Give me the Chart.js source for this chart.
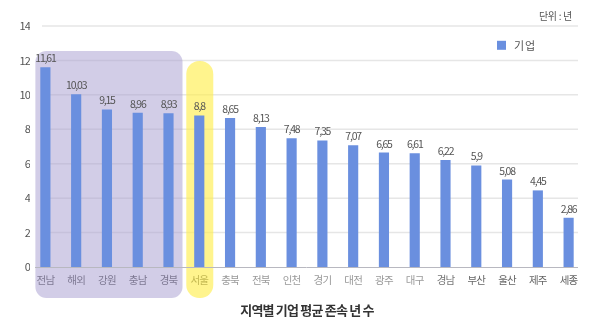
<!DOCTYPE html>
<html>
<head>
<meta charset="utf-8">
<script src="https://cdn.jsdelivr.net/npm/chart.js@4.4.1/dist/chart.umd.min.js"></script>
<style>
  html, body { margin: 0; padding: 0; background: #fff; }
</style>
</head>
<body>
<canvas id="myChart" width="600" height="327"></canvas>
<script>
var regions = ['전남', '해외', '강원', '충남', '경북', '서울', '충북', '전북', '인천',
               '경기', '대전', '광주', '대구', '경남', '부산', '울산', '제주', '세종'];
var years = [11.61, 10.03, 9.15, 8.96, 8.93, 8.8, 8.65, 8.13, 7.48,
             7.35, 7.07, 6.65, 6.61, 6.22, 5.9, 5.08, 4.45, 2.86];
var yTicks = [0, 2, 4, 6, 8, 10, 12, 14];
var labelColors = ['#555', '#555', '#555', '#555', '#555', '#555', '#999', '#999', '#999',
                   '#999', '#999', '#999', '#999', '#777', '#666', '#666', '#666', '#666'];

var barColor = '#6a8fdf';
var font = '"Noto Sans CJK KR", "Noto Sans", sans-serif';

// grid, highlight boxes, baseline, value labels, legend
var decor = {
    id: 'decor',
    beforeDraw: function(chart) {
        chart.ctx.letterSpacing = '-0.8px';
    },
    beforeDatasetsDraw: function(chart) {
        var ctx = chart.ctx, x = chart.scales.x, y = chart.scales.y, a = chart.chartArea;
        ctx.save();
        ctx.strokeStyle = '#e6e6e6';
        ctx.lineWidth = 1.5;
        yTicks.forEach(function(t) {
            if (t === 0) return;
            var py = y.getPixelForValue(t);
            ctx.beginPath();
            ctx.moveTo(a.left + 12, py);
            ctx.lineTo(a.right - 6, py);
            ctx.stroke();
        });

        // 전남..경북 group
        var x0 = x.getPixelForValue(0) - 10, x1 = x.getPixelForValue(4) + 14;
        var yt = y.getPixelForValue(12.55), yb = y.getPixelForValue(-1.8);
        ctx.fillStyle = 'rgba(165,155,208,0.5)';
        ctx.beginPath();
        ctx.roundRect(x0, yt, x1 - x0, yb - yt, 11);
        ctx.fill();

        // 서울
        x0 = x.getPixelForValue(5) - 13; x1 = x.getPixelForValue(5) + 14;
        yt = y.getPixelForValue(11.97);
        ctx.fillStyle = 'rgba(255,238,80,0.65)';
        ctx.beginPath();
        ctx.roundRect(x0, yt, x1 - x0, yb - yt, 13);
        ctx.fill();

        // baseline
        var p0 = y.getPixelForValue(0);
        ctx.strokeStyle = '#b8b8c0';
        ctx.lineWidth = 1;
        ctx.beginPath();
        ctx.moveTo(a.left + 5, p0 + 0.5);
        ctx.lineTo(a.right - 6, p0 + 0.5);
        ctx.stroke();
        ctx.restore();
    },
    afterDatasetsDraw: function(chart) {
        var ctx = chart.ctx;
        var meta = chart.getDatasetMeta(0);
        ctx.save();
        ctx.font = '10.5px ' + font;
        ctx.letterSpacing = '-1.2px';
        ctx.fillStyle = '#555';
        ctx.textAlign = 'center';
        ctx.textBaseline = 'middle';
        meta.data.forEach(function(bar, i) {
            ctx.fillText(String(years[i]).replace('.', ','), bar.x, bar.y - 9);
        });
        ctx.restore();
    },
    afterDraw: function(chart) {
        var ctx = chart.ctx, a = chart.chartArea, y = chart.scales.y;
        ctx.save();
        // unit
        ctx.font = '10px ' + font;
        ctx.letterSpacing = '-0.3px';
        ctx.fillStyle = '#555';
        ctx.textAlign = 'right';
        ctx.textBaseline = 'middle';
        ctx.fillText('단위 : 년', a.right - 12, 16);
        // legend
        var ly = y.getPixelForValue(12.85);
        ctx.fillStyle = barColor;
        ctx.fillRect(a.right - 87, ly - 5, 9, 9);
        ctx.font = '11px ' + font;
        ctx.letterSpacing = '1px';
        ctx.fillStyle = '#555';
        ctx.textAlign = 'left';
        ctx.fillText('기업', a.right - 70, ly);
        ctx.restore();
    }
};

var ctx = document.getElementById('myChart').getContext('2d');

var myChart = new Chart(ctx, {
    type: 'bar',
    data: {
        labels: regions,
        datasets: [{
            label: '기업',
            data: years,
            backgroundColor: barColor,
            barPercentage: 0.33,
            categoryPercentage: 1
        }]
    },
    options: {
        responsive: false,
        animation: false,
        devicePixelRatio: 1,
        layout: { padding: { top: 26, right: 16, left: 0, bottom: 0 } },
        plugins: {
            legend: { display: false },
            title: { display: false },
            tooltip: { enabled: false }
        },
        scales: {
            y: {
                min: 0,
                max: 14,
                afterBuildTicks: function(s) {
                    s.ticks = yTicks.map(function(v) { return { value: v }; });
                },
                ticks: { font: { family: font, size: 11 }, color: '#555', padding: 0 },
                grid: { display: false, drawTicks: false },
                border: { display: false },
                afterFit: function(s) { s.width = 30; }
            },
            x: {
                grid: { display: false, drawTicks: false },
                border: { display: false },
                ticks: {
                    font: { family: font, size: 10.5 },
                    color: labelColors,
                    padding: 7,
                    maxRotation: 0,
                    autoSkip: false
                },
                title: {
                    display: true,
                    text: '지역별 기업 평균 존속 년 수',
                    font: { family: font, size: 13, weight: 'bold' },
                    color: '#333',
                    padding: { top: 0, bottom: 9 }
                },
                afterFit: function(s) { s.height = 60; }
            }
        }
    },
    plugins: [decor]
});
</script>
</body>
</html>
